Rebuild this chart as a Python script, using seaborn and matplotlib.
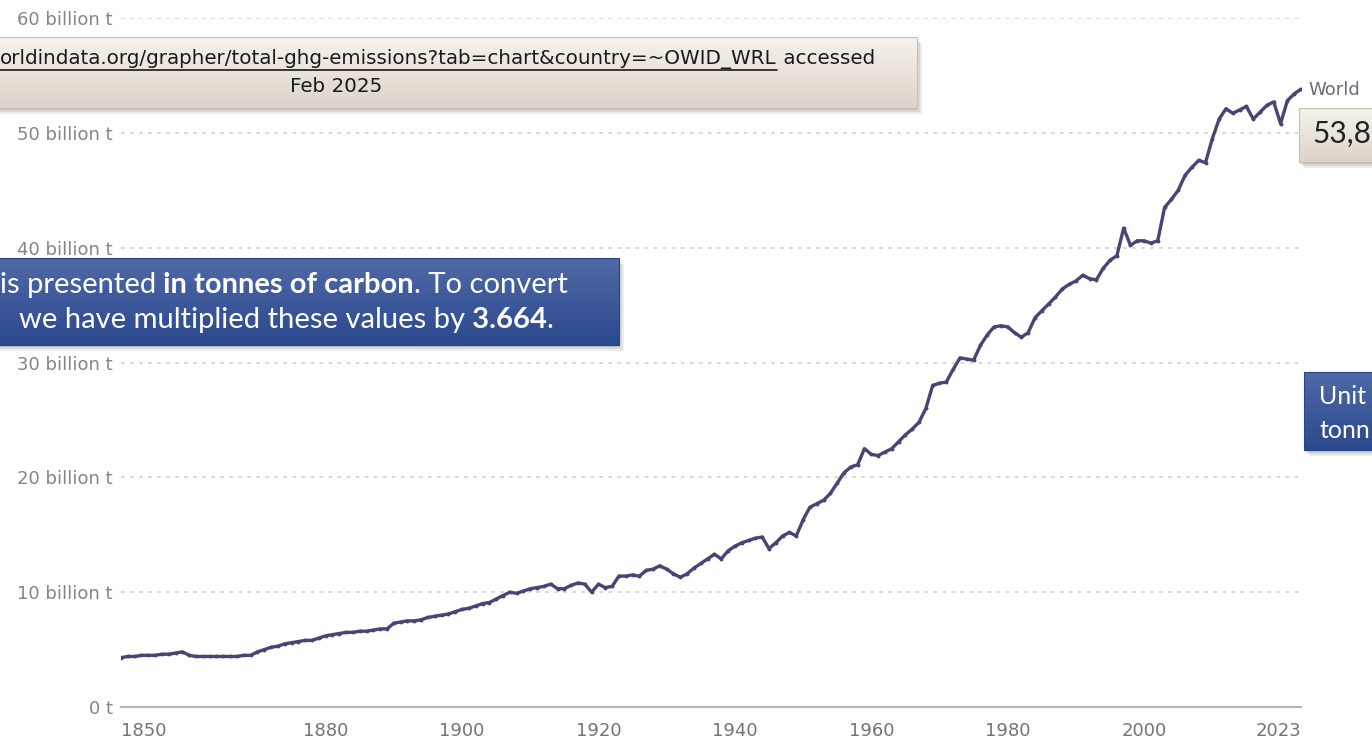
import numpy as np
import pandas as pd
import seaborn as sns
import matplotlib.pyplot as plt
from matplotlib.patches import Rectangle

# World total greenhouse gas emissions, billion tonnes
years = list(range(1850, 2024))
emissions = [
    4.3, 4.4, 4.4, 4.5, 4.5, 4.5, 4.6, 4.6, 4.7, 4.8,
    4.5, 4.4, 4.4, 4.4, 4.4, 4.4, 4.4, 4.4, 4.5, 4.5,
    4.8, 5.0, 5.2, 5.3, 5.5, 5.6, 5.7, 5.8, 5.8, 6.0,
    6.2, 6.3, 6.4, 6.5, 6.5, 6.6, 6.6, 6.7, 6.8, 6.8,
    7.3, 7.4, 7.5, 7.5, 7.6, 7.8, 7.9, 8.0, 8.1, 8.3,
    8.5, 8.6, 8.8, 9.0, 9.1, 9.4, 9.7, 10.0, 9.9, 10.1,
    10.3, 10.4, 10.5, 10.7, 10.3, 10.3, 10.6, 10.8, 10.7, 10.0,
    10.7, 10.4, 10.5, 11.4, 11.4, 11.5, 11.4, 11.9, 12.0, 12.3,
    12.0, 11.6, 11.3, 11.6, 12.1, 12.5, 12.9, 13.3, 12.9, 13.6,
    14.0, 14.3, 14.5, 14.7, 14.8, 13.8, 14.3, 14.9, 15.2, 14.9,
    16.3, 17.4, 17.7, 18.0, 18.6, 19.5, 20.4, 20.9, 21.1, 22.5,
    22.0, 21.9, 22.2, 22.5, 23.1, 23.7, 24.2, 24.8, 26.0, 28.0,
    28.2, 28.3, 29.4, 30.4, 30.3, 30.2, 31.5, 32.4, 33.1, 33.2,
    33.1, 32.6, 32.2, 32.6, 33.9, 34.5, 35.1, 35.7, 36.4, 36.8,
    37.1, 37.6, 37.3, 37.2, 38.2, 38.9, 39.3, 41.7, 40.2, 40.6,
    40.6, 40.4, 40.6, 43.5, 44.2, 45.0, 46.3, 47.0, 47.6, 47.4,
    49.5, 51.2, 52.1, 51.7, 52.0, 52.3, 51.2, 51.8, 52.4, 52.7,
    50.8, 52.8, 53.4, 53.8,
]

y_ticks = [0, 10, 20, 30, 40, 50, 60]
y_labels = ["0 t", "10 billion t", "20 billion t", "30 billion t",
            "40 billion t", "50 billion t", "60 billion t"]
x_ticks = [1850, 1880, 1900, 1920, 1940, 1960, 1980, 2000, 2023]

df = pd.DataFrame({"year": years, "emissions": emissions})

W, H = 1372, 752
FONT = ["Lato", "DejaVu Sans"]
AXFONT = ["DejaVu Sans"]

sns.set_style("white")
plt.rcParams["font.family"] = FONT

fig = plt.figure(figsize=(W / 100, H / 100), dpi=100)
ax = fig.add_axes([121 / W, (H - 707) / H, (1301 - 121) / W, (707 - 18) / H])

sns.lineplot(data=df, x="year", y="emissions", ax=ax, color="#4e4174",
             linewidth=2.4, marker="o", markersize=2.8, markeredgewidth=0)

ax.set_xlim(1850, 2023)
ax.set_ylim(0, 60)
ax.set_xlabel("")
ax.set_ylabel("")

ax.set_yticks(y_ticks)
ax.set_yticklabels(y_labels, family=AXFONT)
ax.set_xticks(x_ticks)
ax.set_xticklabels([str(x) for x in x_ticks], family=AXFONT)
ax.tick_params(axis="y", length=0, pad=6, labelsize=13, labelcolor="#858585")
ax.tick_params(axis="x", length=5, width=1, color="#b0b0b0", pad=6,
               labelsize=13, labelcolor="#747474", direction="out")
xl = ax.get_xticklabels()
xl[0].set_ha("left")
xl[-1].set_ha("right")

ax.yaxis.grid(True, linestyle=(0, (2, 3)), color="#d5d5d5", linewidth=1.3)
ax.xaxis.grid(False)
for s in ["top", "right", "left"]:
    ax.spines[s].set_visible(False)
ax.spines["bottom"].set_color("#b8b8b8")
ax.spines["bottom"].set_linewidth(1.6)
ax.set_axisbelow(True)

# overlay in pixel coordinates for the call-out boxes
ov = fig.add_axes([0, 0, 1, 1], zorder=5)
ov.set_xlim(0, W)
ov.set_ylim(H, 0)
ov.axis("off")
ov.patch.set_alpha(0)
renderer = fig.canvas.get_renderer()


def box(x0, y0, x1, y1, top, bottom, edge):
    for i, a in enumerate([0.10, 0.14, 0.20]):
        off = 6 - i * 2
        ov.add_patch(Rectangle((x0 + off - 1, y0 + off), x1 - x0, y1 - y0,
                               facecolor="#555555", alpha=a, lw=0))
    grad = np.linspace(0, 1, 64).reshape(-1, 1)
    c0 = np.array(plt.matplotlib.colors.to_rgb(top))
    c1 = np.array(plt.matplotlib.colors.to_rgb(bottom))
    img = c0 + (c1 - c0) * grad[:, :, None]
    ov.imshow(img, extent=(x0, x1, y1, y0), aspect="auto", zorder=2)
    ov.add_patch(Rectangle((x0, y0), x1 - x0, y1 - y0, facecolor="none",
                           edgecolor=edge, lw=0.8, zorder=3))


def runs(x, y, parts, size, color):
    for s, w in parts:
        t = ov.text(x, y, s, fontsize=size, fontweight=w, color=color,
                    ha="left", va="center", zorder=4)
        bb = t.get_window_extent(renderer)
        x += bb.width
    return x


BEIGE = ("#f6f2ec", "#dcd4ca", "#c9c0b4")
BLUE = ("#5069a6", "#2b498f", "#2a4488")

# source box (top)
box(-10, 37, 917, 108, *BEIGE)
url = "orldindata.org/grapher/total-ghg-emissions?tab=chart&country=~OWID_WRL"
t = ov.text(0, 59, url, fontsize=14.3, color="#1a1a1a", ha="left", va="center",
            zorder=4, family=AXFONT)
bb = t.get_window_extent(renderer)
ov.plot([0, bb.width], [70, 70], color="#1a1a1a", lw=1.2, zorder=4)
ov.text(bb.width, 59, " accessed", fontsize=14.3, color="#1a1a1a",
        ha="left", va="center", zorder=4, family=AXFONT)
ov.text(336, 86, "Feb 2025", fontsize=14.3, color="#1a1a1a",
        ha="center", va="center", zorder=4, family=AXFONT)

# unit note (left)
box(-10, 258, 619, 345, *BLUE)
runs(0, 285, [("is presented", "normal"), (" in tonnes of carbon", "bold"),
              (". To convert", "normal")], 21, "white")
runs(19, 320, [("we have multiplied these values by", "normal"),
               (" 3.664", "bold"), (".", "normal")], 21, "white")

# value box (right)
box(1299, 108, 1390, 162, *BEIGE)
ov.text(1312, 134, "53,8", fontsize=21.5, color="#222222", ha="left",
        va="center", zorder=4)

# unit box (right)
box(1304, 372, 1390, 450, *BLUE)
ov.text(1319, 396, "Unit", fontsize=18, color="white", ha="left",
        va="center", zorder=4)
ov.text(1319, 430, "tonn", fontsize=18, color="white", ha="left",
        va="center", zorder=4)

# series label
ov.text(1308, 90, "World", fontsize=13, color="#6a6a7a", ha="left",
        va="center", zorder=1, family=AXFONT)

fig.savefig("out.png", dpi=100)
